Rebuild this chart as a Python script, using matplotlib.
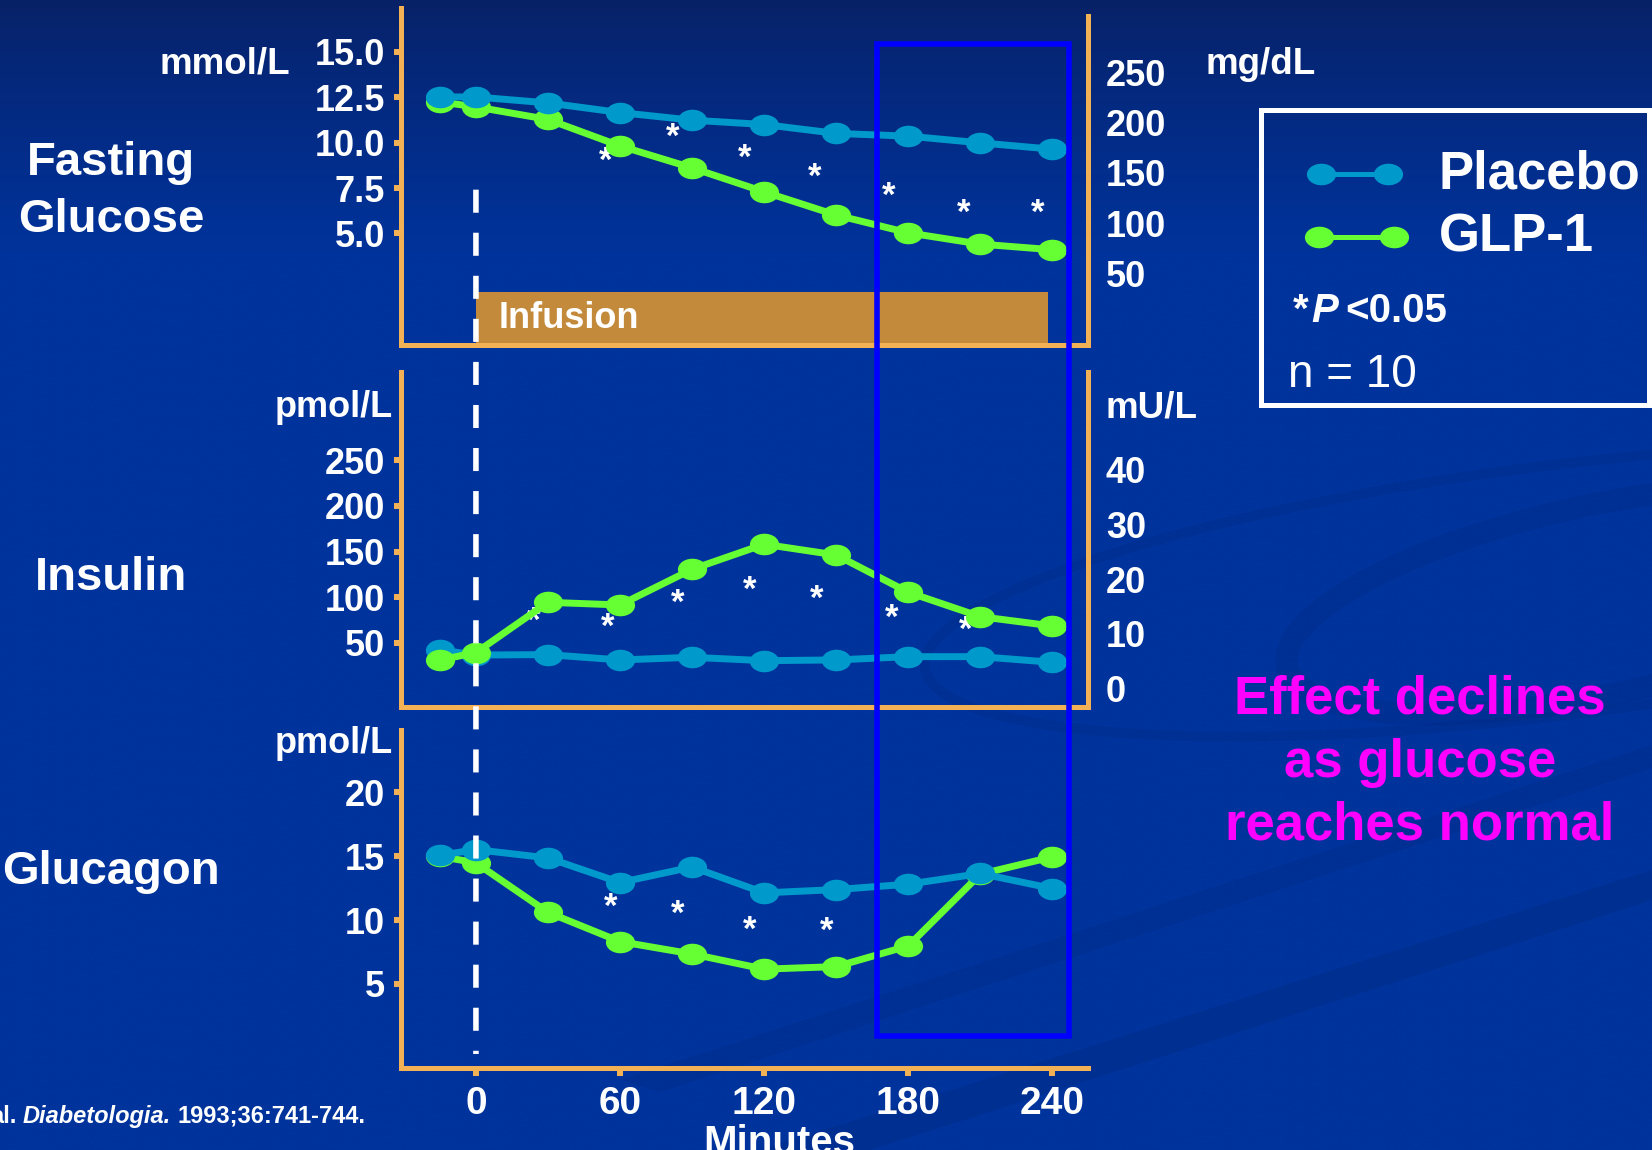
import numpy as np
import matplotlib
matplotlib.use("Agg")
import matplotlib.pyplot as plt
from matplotlib.path import Path
from matplotlib.patches import Rectangle, ConnectionPatch, Ellipse, Polygon
from matplotlib.transforms import Affine2D, blended_transform_factory
from matplotlib.lines import Line2D

# ---------------------------------------------------------------- data
minutes = [-15, 0, 30, 60, 90, 120, 150, 180, 210, 240]

glucose_placebo = [12.52, 12.52, 12.19, 11.66, 11.24, 11.00, 10.51, 10.36, 9.99, 9.64]
glucose_glp1 = [12.25, 11.97, 11.28, 9.82, 8.61, 7.29, 6.01, 5.03, 4.41, 4.10]

insulin_placebo = [42.3, 36.8, 37.2, 31.4, 34.3, 30.6, 31.4, 35.0, 35.0, 28.8]
insulin_glp1 = [31.4, 39.4, 94.5, 91.6, 130.7, 158.1, 146.3, 105.5, 78.8, 68.6]

glucagon_placebo = [15.08, 15.52, 14.87, 12.94, 14.16, 12.13, 12.39, 12.81, 13.65, 12.47]
glucagon_glp1 = [15.0, 14.48, 10.6, 8.31, 7.34, 6.15, 6.35, 7.97, 13.6, 14.95]

# significance markers (P < 0.05)
glucose_sig_min = [54, 82, 112, 141, 172, 203, 234]
glucose_sig_val = [9.59, 10.93, 9.77, 8.72, 7.66, 6.74, 6.74]
insulin_sig_min = [24, 55, 84, 114, 142, 173, 204]
insulin_sig_val = [86.1, 79.5, 105.5, 120.1, 109.9, 89.7, 75.9]
glucagon_sig_min = [56, 84, 114, 146]
glucagon_sig_val = [11.9, 11.3, 10.1, 10.0]

infusion_window = [0, 238]
highlight_window = [167, 247]

time_ticks = [0, 60, 120, 180, 240]
glucose_ticks = [5.0, 7.5, 10.0, 12.5, 15.0]
glucose_mg_ticks = [50, 100, 150, 200, 250]
insulin_ticks = [50, 100, 150, 200, 250]
insulin_mu_ticks = [0, 10, 20, 30, 40]
glucagon_ticks = [5, 10, 15, 20]

MG_PER_MMOL = 18.0
PMOL_PER_MU = 6.0

# ---------------------------------------------------------------- style
plt.rcParams['font.family'] = ['Liberation Sans', 'DejaVu Sans']
plt.rcParams['font.weight'] = 'bold'

ORANGE = '#F2B155'
PLACEBO = '#0099CC'
GLP1 = '#66FF33'
BAR = '#C48A3C'
BOX = '#0000FF'
MAGENTA = '#FF00FF'

W, H, DPI = 1652, 1150, 100
fig = plt.figure(figsize=(W / DPI, H / DPI), dpi=DPI)


def fx(x):
    return x / W


def fy(y):
    return 1 - y / H


def axes_box(left, top, right, bottom):
    return fig.add_axes([left / W, 1 - bottom / H, (right - left) / W, (bottom - top) / H])


# ---------------------------------------------------------------- background
bg = fig.add_axes([0, 0, 1, 1], zorder=-10)
bg.set_axis_off()
bg.set_xlim(0, W)
bg.set_ylim(H, 0)
t = np.linspace(0, 1, 400)[:, None]
top_c = np.array([0.03, 0.13, 0.40])
mid_c = np.array([0.0, 0.20, 0.61])
f = np.clip(t / 0.22, 0, 1) ** 0.8
grad = (top_c * (1 - f) + mid_c * f)[:, None, :].repeat(2, axis=1)
bg.imshow(grad, extent=[0, W, H, 0], aspect='auto', interpolation='bicubic')

# faint decorative swooshes
SW = '#002a82'
bg.add_patch(Ellipse((1560, 590), 1280, 250, angle=-7, facecolor='none',
                     edgecolor=SW, alpha=0.30, lw=7))
bg.add_patch(Ellipse((1600, 600), 640, 190, angle=-12, facecolor='none',
                     edgecolor=SW, alpha=0.30, lw=16))
bg.add_patch(Polygon([[760, 1150], [1652, 870], [1652, 900], [870, 1150]],
                     closed=True, facecolor=SW, edgecolor='none', alpha=0.35))
bg.add_patch(Polygon([[620, 1080], [1652, 745], [1652, 768], [660, 1092]],
                     closed=True, facecolor=SW, edgecolor='none', alpha=0.28))

# ---------------------------------------------------------------- panels
XLIM = (-31.2, 255)
ax_g = axes_box(401, 8.4, 1088.4, 345)
ax_i = axes_box(401, 372, 1088.4, 706.7)
ax_c = axes_box(401, 730, 1088.4, 1068)

ax_g.set_ylim(-1.15, 17.4)
ax_i.set_ylim(-19.8, 346.7)
ax_c.set_ylim(-1.6, 24.9)

SPINE_LW = 3.6
for ax in (ax_g, ax_i, ax_c):
    ax.set_facecolor('none')
    ax.set_xlim(*XLIM)
    ax.spines['top'].set_visible(False)
    for side in ('left', 'bottom', 'right'):
        ax.spines[side].set_color(ORANGE)
        ax.spines[side].set_linewidth(SPINE_LW)
    ax.tick_params(axis='y', direction='out', length=5, width=4.3, color=ORANGE,
                   pad=6.5, labelsize=26, labelcolor='white')
ax_c.spines['right'].set_visible(False)
ax_g.spines['right'].set_bounds(-1.15, 17.0)

for ax in (ax_g, ax_i):
    ax.tick_params(axis='x', bottom=False, labelbottom=False)

ax_c.set_xticks(time_ticks)
ax_c.tick_params(axis='x', direction='out', length=6, width=4.3, color=ORANGE,
                 pad=7, labelsize=28, labelcolor='white')

ax_g.set_yticks(glucose_ticks, labels=[f"{v:.1f}" for v in glucose_ticks])
ax_i.set_yticks(insulin_ticks)
ax_c.set_yticks(glucagon_ticks)

# secondary unit axes
sec_g = ax_g.secondary_yaxis('right', functions=(lambda m: m * MG_PER_MMOL,
                                                 lambda g: g / MG_PER_MMOL))
sec_g.set_yticks(glucose_mg_ticks)
sec_i = ax_i.secondary_yaxis('right', functions=(lambda p: p / PMOL_PER_MU,
                                                 lambda u: u * PMOL_PER_MU))
sec_i.set_yticks(insulin_mu_ticks)
for sec in (sec_g, sec_i):
    for sp in sec.spines.values():
        sp.set_visible(False)
    sec.tick_params(length=0, pad=12.5, labelsize=26, labelcolor='white')

# ellipse-shaped marker
ELL = Path.unit_circle().transformed(Affine2D().scale(1.0, 0.74))
LINE_KW = dict(lw=5.0, marker=ELL, ms=21.0, mew=0, solid_capstyle='round',
               clip_on=False)


def sig_stars(ax, xs, ys):
    for x, y in zip(xs, ys):
        ax.annotate('*', (x, y), xytext=(0, -15), textcoords='offset points',
                    ha='center', va='baseline', fontsize=25, color='white',
                    zorder=2)


# fasting glucose
ax_g.add_patch(Rectangle((infusion_window[0], -1.15),
                         infusion_window[1] - infusion_window[0], 1.78 + 1.15,
                         facecolor=BAR, edgecolor='none', zorder=1))
ax_g.text(9.5, -0.23, 'Infusion', fontsize=26, color='white', va='baseline',
          ha='left', zorder=2)
sig_stars(ax_g, glucose_sig_min, glucose_sig_val)
ax_g.plot(minutes, glucose_glp1, color=GLP1, zorder=3, **LINE_KW)
ax_g.plot(minutes, glucose_placebo, color=PLACEBO, zorder=4, **LINE_KW)

# insulin
sig_stars(ax_i, insulin_sig_min, insulin_sig_val)
ax_i.plot(minutes, insulin_placebo, color=PLACEBO, zorder=3, **LINE_KW)
ax_i.plot(minutes, insulin_glp1, color=GLP1, zorder=4, **LINE_KW)

# glucagon
sig_stars(ax_c, glucagon_sig_min, glucagon_sig_val)
ax_c.plot(minutes, glucagon_glp1, color=GLP1, zorder=3, **LINE_KW)
ax_c.plot(minutes, glucagon_placebo, color=PLACEBO, zorder=4, **LINE_KW)

# infusion start marker across all panels
dash = ConnectionPatch(xyA=(0, 7.41), coordsA=ax_g.transData,
                       xyB=(0, -0.5), coordsB=ax_c.transData,
                       color='white', lw=4.0, linestyle=(0, (16.6 / 4.0, 14.4 / 4.0)),
                       shrinkA=0, shrinkB=0, capstyle='butt', zorder=5)
fig.add_artist(dash)

# highlighted window
hl = Rectangle((highlight_window[0], fy(1035.7)), highlight_window[1] - highlight_window[0],
               fy(44) - fy(1035.7),
               transform=blended_transform_factory(ax_g.transData, fig.transFigure),
               fill=False, edgecolor=BOX, lw=4.0, clip_on=False, zorder=6)
fig.add_artist(hl)

# ---------------------------------------------------------------- labels
WHITE = dict(color='white')
fig.text(fx(290), fy(73.3), 'mmol/L', fontsize=26.5, ha='right', va='baseline', **WHITE)
fig.text(fx(1206), fy(74), 'mg/dL', fontsize=26.5, ha='left', va='baseline', **WHITE)
fig.text(fx(393), fy(417.3), 'pmol/L', fontsize=26, ha='right', va='baseline', **WHITE)
fig.text(fx(1106), fy(417), 'mU/L', fontsize=26.5, ha='left', va='baseline', **WHITE)
fig.text(fx(393), fy(753.3), 'pmol/L', fontsize=26, ha='right', va='baseline', **WHITE)

fig.text(fx(111), fy(175), 'Fasting', fontsize=34, ha='center', va='baseline', **WHITE)
fig.text(fx(111), fy(231.7), 'Glucose', fontsize=34, ha='center', va='baseline', **WHITE)
fig.text(fx(111), fy(590), 'Insulin', fontsize=34, ha='center', va='baseline', **WHITE)
fig.text(fx(111), fy(884), 'Glucagon', fontsize=34, ha='center', va='baseline', **WHITE)

fig.text(fx(779), fy(1154), 'Minutes', fontsize=29, ha='center', va='baseline', **WHITE)

for txt, yb in (('Effect declines', 714), ('as glucose', 777), ('reaches normal', 840)):
    fig.text(fx(1420), fy(yb), txt, fontsize=38, ha='center', va='baseline',
             color=MAGENTA)

# citation
c1 = fig.text(fx(-10), fy(1123), 'al.', fontsize=17, ha='left', va='baseline', **WHITE)
c2 = bg.annotate('Diabetologia.', xy=(1, 0), xycoords=c1, xytext=(4.7, 0),
                 textcoords='offset points', va='bottom', ha='left', fontsize=17,
                 style='italic', annotation_clip=False, **WHITE)
bg.annotate('1993;36:741-744.', xy=(1, 0), xycoords=c2, xytext=(4.7, 0),
            textcoords='offset points', va='bottom', ha='left', fontsize=17,
            annotation_clip=False, **WHITE)

# ---------------------------------------------------------------- legend
fig.add_artist(Rectangle((fx(1261), fy(405)), (1649 - 1261) / W, (405 - 110) / H,
                         transform=fig.transFigure, fill=False, edgecolor='white',
                         lw=3.6, zorder=6))
fig.add_artist(Line2D([fx(1321), fx(1388)], [fy(174), fy(174)], transform=fig.transFigure,
                      color=PLACEBO, lw=3.6, marker=ELL, ms=21, mew=0, zorder=7))
fig.add_artist(Line2D([fx(1319), fx(1394)], [fy(236.7), fy(236.7)], transform=fig.transFigure,
                      color=GLP1, lw=3.6, marker=ELL, ms=21, mew=0, zorder=7))
fig.text(fx(1439), fy(188.3), 'Placebo', fontsize=38, ha='left', va='baseline', **WHITE)
fig.text(fx(1439), fy(251.7), 'GLP-1', fontsize=38, ha='left', va='baseline', **WHITE)

p1 = fig.text(fx(1293), fy(321.7), '*', fontsize=29, ha='left', va='baseline', **WHITE)
p2 = bg.annotate('P', xy=(1, 0), xycoords=p1, xytext=(2, 0), textcoords='offset points',
                 va='bottom', ha='left', fontsize=29, style='italic',
                 annotation_clip=False, **WHITE)
bg.annotate('<0.05', xy=(1, 0), xycoords=p2, xytext=(5, 0), textcoords='offset points',
            va='bottom', ha='left', fontsize=29, annotation_clip=False, **WHITE)
fig.text(fx(1288), fy(386.7), 'n = 10', fontsize=33, fontweight='normal',
         ha='left', va='baseline', **WHITE)

fig.savefig('out.png', dpi=DPI)
